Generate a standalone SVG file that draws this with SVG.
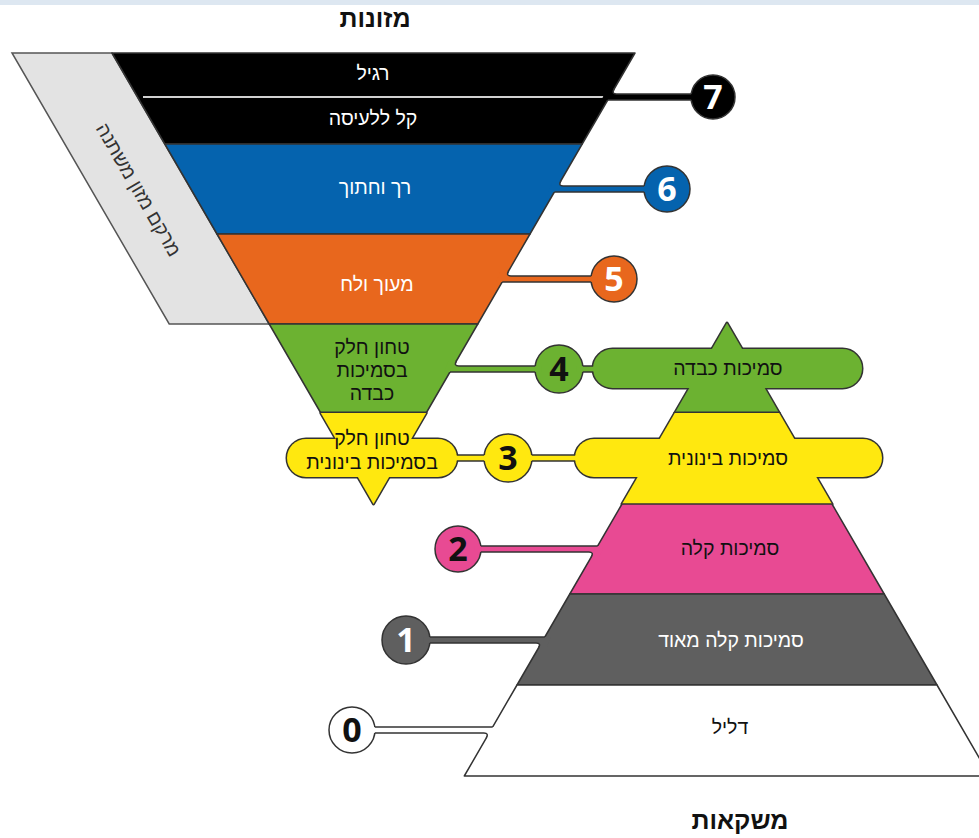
<svg xmlns="http://www.w3.org/2000/svg" width="979" height="838" viewBox="0 0 979 838">
<style>
.ln{stroke:#333;stroke-width:1.5;stroke-linejoin:round}
.ol{fill:none;stroke:#333;stroke-width:3;stroke-linejoin:round}
.t{font-family:"Liberation Sans","DejaVu Sans",sans-serif;font-size:19.5px;text-anchor:middle}
.w{fill:#fff}
.k{fill:#111}
.num{font-family:"Open Sans","Liberation Sans",sans-serif;font-weight:700;font-size:34px;text-anchor:middle}
.h{font-family:"Liberation Sans","DejaVu Sans",sans-serif;font-weight:700;font-size:25px;text-anchor:middle;fill:#111}
.cs{fill:none;stroke:#333;stroke-width:1.5}
.c{stroke:#333;stroke-width:1.5}
</style>
<rect x="0" y="0" width="979" height="838" fill="#fff"/>
<rect x="0" y="0" width="979" height="5" fill="#dde7f1"/>

<g id="title-food"><text class="h" x="375" y="27">מזונות</text></g>
<g id="title-drinks"><text class="h" x="740" y="829">משקאות</text></g>

<g id="texture-band">
<path d="M12,53 L112,53 L269.2,324 L169.2,324 Z" fill="#e3e3e3" stroke="#555" stroke-width="1.5"/>
<text class="t" fill="#333" font-size="18.5" transform="translate(138,190) rotate(60)" x="0" y="6">מרקם מזון משתנה</text>
</g>

<g id="food-7">
<path class="ln" d="M112,53 L635,53 L582.2,144 L164.8,144 Z" fill="#000"/>
<line x1="143" y1="97" x2="604" y2="97" stroke="#d0d0d0" stroke-width="2"/>
<text class="t w" x="373" y="80">רגיל</text>
<text class="t w" x="373" y="125">קל ללעיסה</text>
</g>
<g id="food-6">
<path class="ln" d="M164.8,144 L582.2,144 L530,234 L217,234 Z" fill="#0563ae"/>
<text class="t w" x="375" y="194">רך וחתוך</text>
</g>
<g id="food-5">
<path class="ln" d="M217,234 L530,234 L477.8,324 L269.2,324 Z" fill="#e8671d"/>
<text class="t w" x="377" y="291">מעוך ולח</text>
</g>
<g id="food-4">
<path class="ln" d="M269.2,324 L477.8,324 L426.2,413 L320.8,413 Z" fill="#6cb231"/>
<text class="t k" x="372" y="354">טחון חלק</text>
<text class="t k" x="372" y="377">בסמיכות</text>
<text class="t k" x="372" y="400">כבדה</text>
</g>
<g id="food-3">
<path class="ol" d="M320.8,413 L426.2,413 L373.5,504 Z"/>
<rect class="ol" x="287" y="439" width="170" height="38" rx="19"/>
<path d="M320.8,413 L426.2,413 L373.5,504 Z" fill="#ffe80f"/>
<rect x="287" y="439" width="170" height="38" rx="19" fill="#ffe80f"/>
<text class="t k" x="372" y="445">טחון חלק</text>
<text class="t k" x="372" y="469">בסמיכות בינונית</text>
</g>

<g id="drink-4">
<path class="ol" d="M727,323 L779.2,413 L674.8,413 Z"/>
<rect class="ol" x="593" y="349" width="269" height="39" rx="19.5"/>
<path d="M727,323 L779.2,413 L674.8,413 Z" fill="#6cb231"/>
<rect x="593" y="349" width="269" height="39" rx="19.5" fill="#6cb231"/>
<text class="t k" x="728" y="375">סמיכות כבדה</text>
</g>
<g id="drink-3">
<path class="ol" d="M674.8,413 L779.2,413 L832,504 L622,504 Z"/>
<rect class="ol" x="575" y="439" width="307" height="38" rx="19"/>
<path d="M674.8,413 L779.2,413 L832,504 L622,504 Z" fill="#ffe80f"/>
<rect x="575" y="439" width="307" height="38" rx="19" fill="#ffe80f"/>
<text class="t k" x="728" y="465">סמיכות בינונית</text>
</g>
<g id="drink-2">
<path class="ln" d="M622,504 L832,504 L884.2,594 L569.8,594 Z" fill="#e84a93"/>
<text class="t k" x="730" y="555">סמיכות קלה</text>
</g>
<g id="drink-1">
<path class="ln" d="M569.8,594 L884.2,594 L937,685 L517,685 Z" fill="#5f5f5f"/>
<text class="t w" x="731" y="647">סמיכות קלה מאוד</text>
</g>
<g id="drink-0">
<path class="ln" d="M517,685 L937,685 L989.7,776 L464.3,776 Z" fill="#fff"/>
<text class="t k" x="730" y="734">דליל</text>
</g>

<g id="level-7"><circle class="c" cx="713" cy="97" r="22" fill="#000"/></g>
<g id="level-6"><circle class="c" cx="667" cy="189" r="23" fill="#0563ae"/></g>
<g id="level-5"><circle class="c" cx="614" cy="279" r="23" fill="#e8671d"/></g>
<g id="level-4"><circle class="c" cx="559" cy="369" r="24" fill="#6cb231"/></g>
<g id="level-3"><circle class="c" cx="508" cy="458" r="24" fill="#ffe80f"/></g>
<g id="level-2"><circle class="c" cx="458" cy="549" r="23" fill="#e84a93"/></g>
<g id="level-1"><circle class="c" cx="406" cy="640" r="24" fill="#5f5f5f"/></g>
<g id="level-0"><circle class="c" cx="352" cy="730" r="23" fill="#fff"/></g>

<g id="connectors">
<path d="M606.1,89 L614.1,89 Q611.2,94 616.5,94 L697.2,94 L697.2,100 L601.7,100 Z" fill="#000"/>
<path class="cs" d="M614.1,89 Q611.2,94 616.5,94 L691.2,94 M607.7,100 L691.2,100"/>
<path d="M552.8,181 L560.8,181 Q557.9,186 563.2,186 L650.2,186 L650.2,192 L548.4,192 Z" fill="#0563ae"/>
<path class="cs" d="M560.8,181 Q557.9,186 563.2,186 L644.2,186 M554.4,192 L644.2,192"/>
<path d="M500.6,271 L508.6,271 Q505.7,276 511,276 L597.2,276 L597.2,282 L496.2,282 Z" fill="#e8671d"/>
<path class="cs" d="M508.6,271 Q505.7,276 511,276 L591.2,276 M502.2,282 L591.2,282"/>
<path d="M448.4,361 L456.4,361 Q453.5,366 458.8,366 L541.2,366 L541.2,372 L444,372 Z" fill="#6cb231"/>
<path class="cs" d="M456.4,361 Q453.5,366 458.8,366 L535.2,366 M450,372 L535.2,372"/>
<path d="M576.8,366 L599.3,366 L599.3,372 L576.8,372 Z" fill="#6cb231"/>
<path class="cs" d="M582.8,366 L593.2,366 M582.8,372 L593.3,372"/>
<path d="M450.8,455 L490.2,455 L490.2,461 L450.8,461 Z" fill="#ffe80f"/>
<path class="cs" d="M456.8,455 L484.2,455 M456.8,461 L484.2,461"/>
<path d="M525.8,455 L581.2,455 L581.2,461 L525.8,461 Z" fill="#ffe80f"/>
<path class="cs" d="M531.8,455 L575.2,455 M531.8,461 L575.2,461"/>
<path d="M603.7,546 L474.8,546 L474.8,552 L588.9,552 Q594.2,552 591.3,557 L599.3,557 Z" fill="#e84a93"/>
<path class="cs" d="M480.8,546 L597.7,546 M480.8,552 L588.9,552 Q594.2,552 591.3,557"/>
<path d="M550.9,637 L423.8,637 L423.8,643 L536.1,643 Q541.4,643 538.5,648 L546.5,648 Z" fill="#5f5f5f"/>
<path class="cs" d="M429.8,637 L544.9,637 M429.8,643 L536.1,643 Q541.4,643 538.5,648"/>
<path d="M498.7,727 L368.8,727 L368.8,733 L483.9,733 Q489.2,733 486.3,738 L494.3,738 Z" fill="#fff"/>
<path class="cs" d="M374.8,727 L492.7,727 M374.8,733 L483.9,733 Q489.2,733 486.3,738"/>
</g>

<g id="level-numbers">
<text class="num w" x="713" y="109">7</text>
<text class="num w" x="667" y="201">6</text>
<text class="num w" x="614" y="291">5</text>
<text class="num k" x="559" y="381">4</text>
<text class="num k" x="508" y="470">3</text>
<text class="num k" x="458" y="561">2</text>
<text class="num w" x="406" y="652">1</text>
<text class="num k" x="352" y="742">0</text>
</g>
</svg>
